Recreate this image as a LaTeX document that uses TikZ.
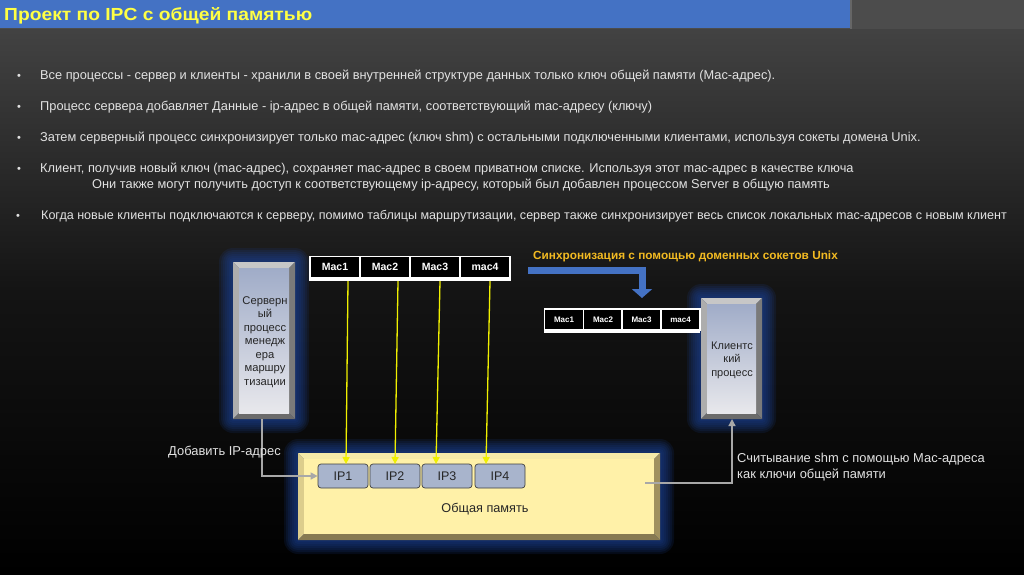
\documentclass[tikz,border=0pt]{standalone}
\usepackage{fontspec}
\setmainfont{Liberation Sans}
\usetikzlibrary{arrows.meta}
\definecolor{titleblue}{HTML}{4472C4}
\definecolor{titleyellow}{HTML}{FFFF44}
\definecolor{txtgray}{HTML}{E2E2E2}
\definecolor{syncgold}{HTML}{F2BA22}
\definecolor{glowblue}{HTML}{1C4296}
\definecolor{ipfill}{HTML}{A8B4CC}
\definecolor{linegray}{HTML}{A8A8A8}
\definecolor{ylw}{HTML}{F0F000}
\definecolor{procTop}{RGB}{160,172,200}
\definecolor{procBot}{RGB}{232,232,236}
\definecolor{shmTop}{RGB}{245,234,168}
\definecolor{shmLeft}{RGB}{220,205,140}
\definecolor{shmRight}{RGB}{160,145,95}
\definecolor{shmBot}{RGB}{135,122,82}
\definecolor{shmFill}{RGB}{255,241,168}
\newcommand\myglow[4]{%
  \foreach \g in {14,12,...,2}{%
    \fill[glowblue, opacity=0.15, rounded corners=\g pt] ({#1-\g},{#2-\g}) rectangle ({#3+\g},{#4+\g});}}
% x1 y1 x2 y2 bevel topc leftc rightc botc
\newcommand\mybevel[9]{%
  \fill[#6] (#1,#2) -- (#3,#2) -- ({#3-#5},{#2+#5}) -- ({#1+#5},{#2+#5}) -- cycle;
  \fill[#7] (#1,#2) -- ({#1+#5},{#2+#5}) -- ({#1+#5},{#4-#5}) -- (#1,#4) -- cycle;
  \fill[#8] (#3,#2) -- ({#3-#5},{#2+#5}) -- ({#3-#5},{#4-#5}) -- (#3,#4) -- cycle;
  \fill[#9] (#1,#4) -- ({#1+#5},{#4-#5}) -- ({#3-#5},{#4-#5}) -- (#3,#4) -- cycle;}
\tikzset{
  bul/.style={anchor=base west, text=txtgray, font=\fontsize{12.8}{15}\selectfont, inner sep=0pt},
  dot/.style={anchor=base, text=txtgray, font=\fontsize{11}{13}\selectfont, inner sep=0pt},
  maccell/.style={fill=black, draw=white, line width=1.2pt, minimum width=50pt, minimum height=21pt, inner sep=0pt, text=white, font=\fontsize{10.5}{12}\selectfont\bfseries},
  smallcell/.style={fill=black, draw=white, line width=1.2pt, minimum width=39pt, minimum height=21pt, inner sep=0pt, text=white, font=\fontsize{8}{10}\selectfont\bfseries},
  ipbox/.style={fill=ipfill, draw=black!75, line width=0.7pt, rounded corners=3pt, minimum width=50pt, minimum height=24pt, inner sep=0pt, text=black!85, font=\fontsize{12.5}{14}\selectfont},
  proctext/.style={align=center, text=black!85, inner sep=0pt},
  lbl/.style={anchor=base west, text=txtgray, font=\fontsize{12.9}{15}\selectfont, inner sep=0pt},
  yarrow/.style={ylw, line width=1.3pt, -{Triangle[width=7pt,length=7pt]}},
  garrow/.style={linegray, line width=1.3pt, -{Triangle[width=7pt,length=7pt]}},
}
\begin{document}
\begin{tikzpicture}[x=1pt,y=-1pt]
\useasboundingbox (0,0) rectangle (1024,574);
\begin{scope}
\clip (0,0) rectangle (1024,574);
% background
\shade[top color=black!72, bottom color=black!92] (0,0) rectangle (1024,287);
\shade[top color=black!92, bottom color=black] (0,287) rectangle (1024,574);
\fill[black!70] (0,0) rectangle (1024,29);
\fill[titleblue] (0,0) rectangle (850,28);
\fill[black!60] (850,0) rectangle (852,29);
\node[anchor=base west, inner sep=0pt, text=titleyellow] (title) at (4,20.5)
  {\scalebox{1.1}[1]{\fontsize{17.5}{20}\selectfont\bfseries Проект по IPC с общей памятью}};

% bullets
\node[dot] (d1) at (19,79) {\textbullet};
\node[bul] (b1) at (40,79) {Все процессы - сервер и клиенты - хранили в своей внутренней структуре данных только ключ общей памяти (Мас-адрес).};
\node[dot] (d2) at (19,110) {\textbullet};
\node[bul] (b2) at (40,110) {Процесс сервера добавляет Данные - ip-адрес в общей памяти, соответствующий mac-адресу (ключу)};
\node[dot] (d3) at (19,141) {\textbullet};
\node[bul] (b3) at (40,141) {Затем серверный процесс синхронизирует только mac-адрес (ключ shm) с остальными подключенными клиентами, используя сокеты домена Unix.};
\node[dot] (d4) at (19,172) {\textbullet};
\node[bul] (b4) at (40,172) {Клиент, получив новый ключ (mac-адрес), сохраняет mac-адрес в своем приватном списке. Используя этот mac-адрес в качестве ключа};
\node[bul] (b4b) at (92,188) {Они также могут получить доступ к соответствующему ip-адресу, который был добавлен процессом Server в общую память};
\node[dot] (d5) at (18,219) {\textbullet};
\node[bul, font=\fontsize{12.55}{15}\selectfont] (b5) at (41,219) {Когда новые клиенты подключаются к серверу, помимо таблицы маршрутизации, сервер также синхронизирует весь список локальных mac-адресов с новым клиент};

% glows
\myglow{233}{262}{295}{419}
\myglow{701}{298}{762}{419}
\myglow{298}{453}{660}{540}

% server box
\mybevel{233}{262}{295}{419}{6}{black!22}{black!32}{black!52}{black!58}
\shade[top color=procTop, bottom color=procBot] (239,268) rectangle (289,413);
\node[proctext, font=\fontsize{11.2}{13.5}\selectfont] (server) at (265,342)
  {Серверн\\ый\\процесс\\менедж\\ера\\маршру\\тизации};
\coordinate (serverbot) at (262,419);

% client box
\mybevel{701}{298}{762}{419}{6}{black!22}{black!32}{black!52}{black!58}
\shade[top color=procTop, bottom color=procBot] (707,304) rectangle (756,413);
\node[proctext, font=\fontsize{11}{13.5}\selectfont] (client) at (732,360)
  {Клиентс\\кий\\процесс};
\coordinate (clientbot) at (732,419);

% shared memory box
\mybevel{298}{453}{660}{540}{6}{shmTop}{shmLeft}{shmRight}{shmBot}
\fill[shmFill] (304,459) rectangle (654,534);
\node[inner sep=0pt, text=black!85, font=\fontsize{12.7}{15}\selectfont] (shm) at (485,509) {Общая память};

% IP boxes
\node[ipbox] (ip1) at (343,476) {IP1};
\node[ipbox] (ip2) at (395,476) {IP2};
\node[ipbox] (ip3) at (447,476) {IP3};
\node[ipbox] (ip4) at (500,476) {IP4};

% server mac table
\fill[white] (309,256) rectangle (511,281);
\node[maccell] (m1) at (335,267) {Mac1};
\node[maccell] (m2) at (385,267) {Mac2};
\node[maccell] (m3) at (435,267) {Mac3};
\node[maccell] (m4) at (485,267) {mac4};

% client mac table
\fill[white] (544,308) rectangle (700,333);
\node[smallcell] (c1) at (564,319.5) {Mac1};
\node[smallcell] (c2) at (603,319.5) {Mac2};
\node[smallcell] (c3) at (641.5,319.5) {Mac3};
\node[smallcell] (c4) at (680.5,319.5) {mac4};

% yellow arrows mac -> ip
\coordinate (y1a) at (348,281); \coordinate (y1b) at (346,464);
\coordinate (y2a) at (398,281); \coordinate (y2b) at (395,464);
\coordinate (y3a) at (440,281); \coordinate (y3b) at (436,464);
\coordinate (y4a) at (490,281); \coordinate (y4b) at (486,464);
\draw[yarrow] (y1a) -- (y1b);
\draw[yarrow] (y2a) -- (y2b);
\draw[yarrow] (y3a) -- (y3b);
\draw[yarrow] (y4a) -- (y4b);

% sync label and blue arrow
\node[anchor=base west, inner sep=0pt, text=syncgold, font=\fontsize{11.8}{13}\selectfont\bfseries] (sync) at (533,259) {Синхронизация с помощью доменных сокетов Unix};
\coordinate (bstart) at (528,270);
\coordinate (btip) at (642,298);
\draw[titleblue, line width=7pt, -{Triangle[width=20pt,length=9pt]}] (bstart) -| (btip);

% gray connectors
\draw[garrow] (serverbot) |- (ip1.west);
\coordinate (shmread) at (645,483);
\draw[garrow] (shmread) -| (clientbot);

% labels
\node[lbl] (addip) at (168,455) {Добавить IP-адрес};
\node[lbl] (read1) at (737,462) {Считывание shm с помощью Мас-адреса};
\node[lbl] (read2) at (737,478) {как ключи общей памяти};
\end{scope}
\end{tikzpicture}
\end{document}
